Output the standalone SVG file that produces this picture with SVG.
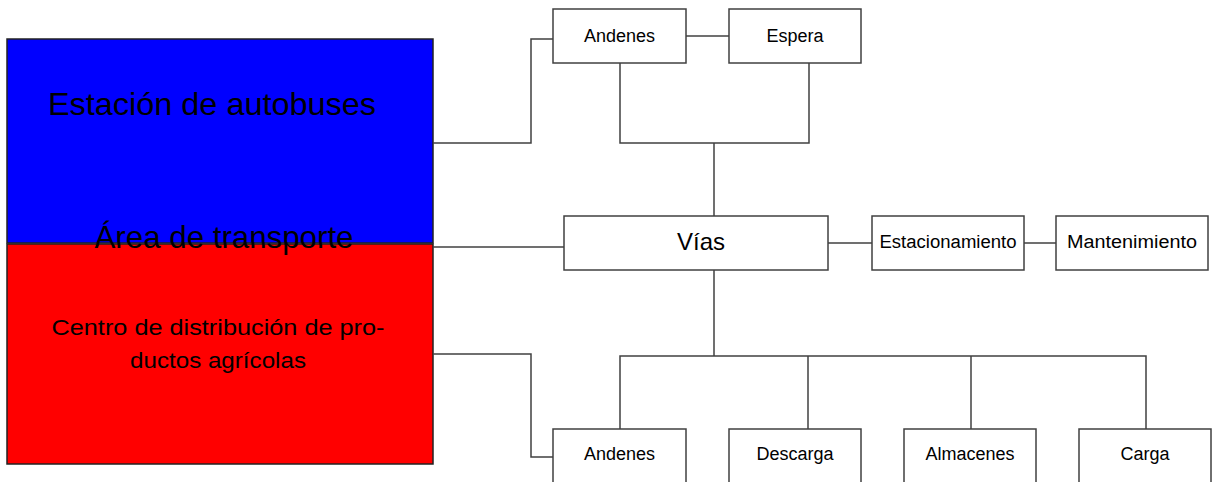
<svg xmlns="http://www.w3.org/2000/svg" width="1216" height="482" viewBox="0 0 1216 482">
<style>
.box{fill:#fff;stroke:#404040;stroke-width:1.5}
.area{stroke:#222;stroke-width:1.5}
.lbl{font-family:"Liberation Sans",Arial,sans-serif;font-size:18px;fill:#000;text-anchor:middle}
.big{font-family:"Liberation Sans",Arial,sans-serif;font-size:32px;fill:#000;text-anchor:middle}
.mid{font-family:"Liberation Sans",Arial,sans-serif;font-size:22px;fill:#000;text-anchor:middle}
#connectors path{fill:none;stroke:#404040;stroke-width:1.5}
</style>
<rect width="1216" height="482" fill="#fff"/>
<g id="estacion">
<rect class="area" x="7" y="39" width="426" height="204" fill="#0000ff"/>
<text class="big" x="212" y="115" textLength="328" lengthAdjust="spacingAndGlyphs">Estación de autobuses</text>
</g>
<g id="centro">
<rect class="area" x="7" y="244" width="426" height="220" fill="#ff0000"/>
<text class="mid" x="218" y="335" textLength="333" lengthAdjust="spacingAndGlyphs">Centro de distribución de pro-</text>
<text class="mid" x="218" y="368" textLength="176" lengthAdjust="spacingAndGlyphs">ductos agrícolas</text>
</g>
<g id="area-transporte">
<text class="big" x="224" y="248" textLength="259" lengthAdjust="spacingAndGlyphs">Área de transporte</text>
</g>
<g id="connectors">
<path d="M433,143 H531 V39 H553"/>
<path d="M686,36 H729"/>
<path d="M620,63 V143 H809 V63"/>
<path d="M714,143 V216"/>
<path d="M433,247 H564"/>
<path d="M828,243 H872"/>
<path d="M1024,243 H1056"/>
<path d="M714,270 V356"/>
<path d="M620,429 V356 H1146 V429"/>
<path d="M808,356 V429"/>
<path d="M971,356 V429"/>
<path d="M433,354 H531 V457 H553"/>
</g>
<g id="andenes-top">
<rect class="box" x="553" y="9" width="133" height="54"/>
<text class="lbl" x="619.5" y="42">Andenes</text>
</g>
<g id="espera">
<rect class="box" x="729" y="9" width="132" height="54"/>
<text class="lbl" x="795" y="42">Espera</text>
</g>
<g id="vias">
<rect class="box" x="564" y="216" width="264" height="54"/>
<text class="lbl" x="701" y="250" style="font-size:24px">Vías</text>
</g>
<g id="estacionamiento">
<rect class="box" x="872" y="216" width="152" height="54"/>
<text class="lbl" x="948" y="248" textLength="137" lengthAdjust="spacingAndGlyphs">Estacionamiento</text>
</g>
<g id="mantenimiento">
<rect class="box" x="1056" y="216" width="152" height="54"/>
<text class="lbl" x="1132" y="248" textLength="130" lengthAdjust="spacingAndGlyphs">Mantenimiento</text>
</g>
<g id="andenes-bottom">
<rect class="box" x="553" y="429" width="133" height="70"/>
<text class="lbl" x="619.5" y="460">Andenes</text>
</g>
<g id="descarga">
<rect class="box" x="729" y="429" width="132" height="70"/>
<text class="lbl" x="795" y="460">Descarga</text>
</g>
<g id="almacenes">
<rect class="box" x="904" y="429" width="132" height="70"/>
<text class="lbl" x="970" y="460">Almacenes</text>
</g>
<g id="carga">
<rect class="box" x="1079" y="429" width="132" height="70"/>
<text class="lbl" x="1145" y="460">Carga</text>
</g>
</svg>
